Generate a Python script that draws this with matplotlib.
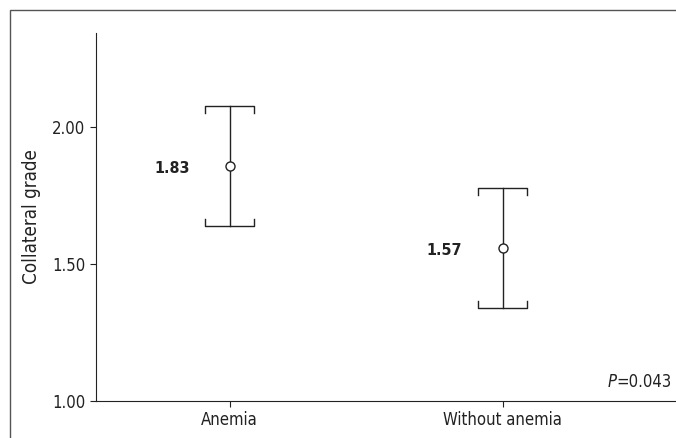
import matplotlib
matplotlib.use("Agg")
import matplotlib.pyplot as plt
from matplotlib.patches import Rectangle

categories = ["Anemia", "Without anemia"]
means = [1.86, 1.56]
upper = [2.08, 1.78]
lower = [1.64, 1.34]
labels = ["1.83", "1.57"]
yticks = [1.00, 1.50, 2.00]
p_text = "=0.043"

plt.rcParams['font.family'] = ['DejaVu Sans']
plt.rcParams['font.stretch'] = 'condensed'

fig = plt.figure(figsize=(6.76, 4.38), dpi=100)
fig.patches.append(Rectangle((10/676, -0.1), 1.2, 1 - 10/438 + 0.1, transform=fig.transFigure,
                             fill=False, edgecolor='#555555', linewidth=1.0))
ax = fig.add_axes([96/676, 1 - 401/438, 1 - 96/676 + 0.01, (401 - 33)/438])

xs = list(range(1, len(categories) + 1))
cw = 0.09
th = 0.027
for x, m, u, l in zip(xs, means, upper, lower):
    ax.plot([x, x], [l, u], color='#222222', lw=1.0)
    ax.plot([x - cw, x - cw, x + cw, x + cw], [u - th, u, u, u - th], color='#222222', lw=1.0)
    ax.plot([x - cw, x - cw, x + cw, x + cw], [l + th, l, l, l + th], color='#222222', lw=1.0)
    ax.plot([x], [m], marker='o', ms=6.5, mfc='white', mec='#222222', mew=1.0, zorder=3)

for x, m, lab in zip(xs, means, labels):
    ax.annotate(lab, (x, m), xytext=(-29, -2), textcoords='offset points',
                ha='right', va='center', fontsize=11.5, fontweight='bold', color='#222222')

ax.set_xlim(0.51, 2.66)
ax.set_ylim(1.0, 2.345)
ax.set_xticks(xs)
ax.set_xticklabels(categories, fontsize=12, color='#222222')
ax.set_yticks(yticks)
ax.set_yticklabels([f"{v:.2f}" for v in yticks], fontsize=12, color='#222222')
ax.set_ylabel("Collateral grade", fontsize=13.5, color='#222222', labelpad=8)
ax.spines['top'].set_visible(False)
ax.spines['right'].set_visible(False)
for s in ['left', 'bottom']:
    ax.spines[s].set_color('#222222')
ax.tick_params(axis='both', length=4, color='#222222')
ax.tick_params(axis='x', direction='out', pad=3)

t_eq = fig.text(672/676, 1 - 382/438, p_text, ha='right', va='center', fontsize=12, color='#222222')
fig.canvas.draw()
ax.annotate("P", xy=(0, 0.5), xycoords=t_eq, ha='right', va='center', fontsize=12,
            fontstyle='italic', color='#222222', annotation_clip=False)

fig.savefig("out.png", dpi=100)
